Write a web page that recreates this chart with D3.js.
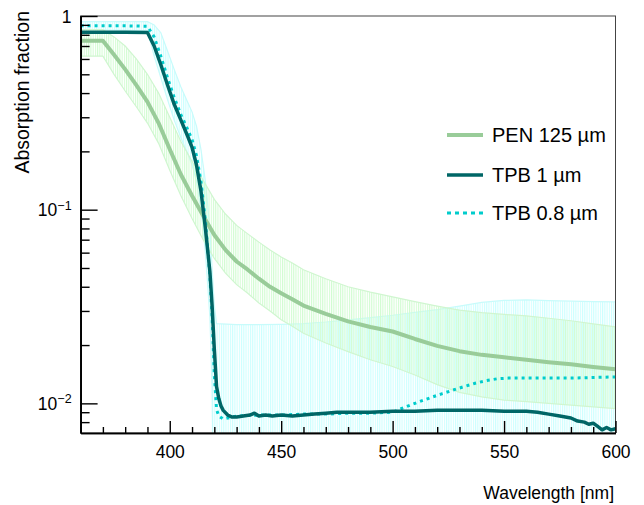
<!DOCTYPE html>
<html>
<head>
<meta charset="utf-8">
<script src="https://cdn.jsdelivr.net/npm/d3@7"></script>
<style>
body { margin: 0; background: #fff; }
text { font-family: "Liberation Sans", Arial, sans-serif; }
</style>
</head>
<body>
<div id="chart"></div>
<script>
// PEN 125 um
const penWl  = [360,365,370,375,380,385,390,395,400,405,410,415,420,425,430,435,440,445,450,455,460,470,480,490,500,510,520,530,540,550,560,570,580,590,600]
const penVal = [0.745,0.745,0.745,0.63,0.53,0.44,0.36,0.28,0.205,0.152,0.118,0.093,0.074,0.062,0.054,0.049,0.044,0.040,0.037,0.0345,0.032,0.029,0.0265,0.0248,0.0235,0.0215,0.0198,0.0186,0.0178,0.0173,0.0168,0.0163,0.0159,0.0154,0.015]
const penLo  = [0.62,0.62,0.62,0.50,0.41,0.34,0.28,0.22,0.16,0.118,0.09,0.07,0.056,0.047,0.041,0.037,0.033,0.030,0.027,0.025,0.023,0.0205,0.0185,0.0168,0.0155,0.014,0.0125,0.0114,0.0108,0.0104,0.0102,0.01,0.0098,0.0096,0.0094]
const penHi  = [0.85,0.85,0.85,0.78,0.70,0.60,0.50,0.40,0.30,0.225,0.178,0.142,0.113,0.095,0.083,0.075,0.068,0.062,0.057,0.053,0.049,0.044,0.040,0.0375,0.0355,0.0335,0.0318,0.0303,0.0294,0.0288,0.0283,0.0275,0.0267,0.0257,0.0248]

// TPB 1 um
const tpb1Wl  = [360,370,380,390,393,396,399,402,405,408,410,412,414,416,418,419,420,421,422,423,424,426,428,430,433,436,438,440,443,446,450,455,460,465,470,475,480,490,500,510,520,530,540,550,555,560,565,570,575,580,583,586,588,590,592,594,596,598,600]
const tpb1Val = [0.825,0.825,0.825,0.822,0.70,0.56,0.44,0.35,0.29,0.24,0.21,0.17,0.125,0.08,0.048,0.032,0.019,0.0122,0.0106,0.0097,0.0092,0.0087,0.0085,0.0085,0.0086,0.0087,0.0089,0.0086,0.0087,0.0086,0.0087,0.0086,0.0087,0.0088,0.0089,0.009,0.009,0.009,0.0091,0.0091,0.0092,0.0092,0.0092,0.0091,0.0091,0.0091,0.009,0.0088,0.0086,0.0084,0.0081,0.008,0.0078,0.0079,0.0076,0.0073,0.0075,0.0073,0.0074]

// TPB 0.8 um
const tpb08Wl  = [360,370,380,390,393,396,399,402,405,408,410,412,414,416,418,419,420,421,422,424,426,430,440,450,460,470,480,490,500,503,508,512,517,522,527,532,537,542,547,552,560,570,580,590,600]
const tpb08Val = [0.89,0.89,0.89,0.885,0.78,0.62,0.48,0.38,0.31,0.26,0.23,0.19,0.14,0.088,0.045,0.028,0.014,0.0093,0.0086,0.0083,0.0084,0.0086,0.0087,0.0087,0.0088,0.0088,0.0089,0.0089,0.009,0.0093,0.0098,0.0102,0.0107,0.0112,0.0117,0.0122,0.0127,0.0131,0.0134,0.0135,0.0135,0.0135,0.0135,0.0136,0.0137]
const tpb08BandWl = [360,390,393,396,399,402,405,408,410,412,414,416,418,419,420,421,430,440,450,460,470,480,490,500,510,520,530,540,550,560,570,580,590,600]
const tpb08Lo = [0.85,0.84,0.62,0.48,0.37,0.29,0.235,0.195,0.17,0.14,0.10,0.06,0.028,0.012,0.001,0.001,0.001,0.001,0.001,0.001,0.001,0.001,0.001,0.001,0.001,0.001,0.001,0.001,0.001,0.001,0.001,0.001,0.001,0.001]
const tpb08Hi = [0.935,0.935,0.90,0.82,0.66,0.53,0.43,0.36,0.32,0.27,0.205,0.14,0.08,0.05,0.032,0.0258,0.0255,0.0255,0.0256,0.0258,0.0263,0.027,0.0277,0.0285,0.0295,0.0305,0.0318,0.0332,0.034,0.0342,0.0339,0.0337,0.0335,0.0334]

const xMajor = [400,450,500,550,600]
const yMajor = [1,0.1,0.01]
const yLabels = [["1",""],["10","\u22121"],["10","\u22122"]]
const legendNames = ["PEN 125 \u00b5m","TPB 1 \u00b5m","TPB 0.8 \u00b5m"]

const W = 644, H = 505
const x0 = 80.6, x1 = 615.5, yTop = 16, yBot = 433

const x = d3.scaleLinear().domain([360,600]).range([x0,x1])
const y = d3.scaleLog().domain([0.00703,1]).range([yBot,yTop])

const svg = d3.select('#chart').append('svg')
	.attr('width',W).attr('height',H)

const defs = svg.append('defs')
defs.append('clipPath').attr('id','plotClip')
	.append('rect')
	.attr('x',x0).attr('y',yTop)
	.attr('width',x1-x0).attr('height',yBot-yTop)

const step = x(361) - x(360)
function hatch(id, color, shift) {
	let p = defs.append('pattern')
		.attr('id',id)
		.attr('patternUnits','userSpaceOnUse')
		.attr('width',step).attr('height',20)
		.attr('patternTransform','translate(' + (x0 + shift) + ',0)')
	p.append('line')
		.attr('x1',0.5).attr('x2',0.5)
		.attr('y1',0).attr('y2',20)
		.attr('stroke',color)
		.attr('stroke-width',1.1)
}
hatch('hatchCyan','#ccffff',0)
hatch('hatchGreen','#d2fcd2',0.9)

const plot = svg.append('g').attr('clip-path','url(#plotClip)')

function band(wl, lo, hi, fillId, edge) {
	let pts = wl.map(function(w,i){ return {w: w, lo: lo[i], hi: hi[i]} })
	plot.append('path')
		.datum(pts)
		.attr('d', d3.area()
			.x(function(d){ return x(d.w) })
			.y0(function(d){ return y(d.lo) })
			.y1(function(d){ return y(d.hi) }))
		.attr('fill','url(#' + fillId + ')')
	plot.append('path')
		.datum(pts)
		.attr('d', d3.line().x(function(d){ return x(d.w) }).y(function(d){ return y(d.hi) }))
		.attr('fill','none').attr('stroke',edge).attr('stroke-width',1.2)
	plot.append('path')
		.datum(pts)
		.attr('d', d3.line().x(function(d){ return x(d.w) }).y(function(d){ return y(d.lo) }))
		.attr('fill','none').attr('stroke',edge).attr('stroke-width',1.2)
}

band(tpb08BandWl, tpb08Lo, tpb08Hi, 'hatchCyan', '#c8fbfb')
band(penWl, penLo, penHi, 'hatchGreen', '#d0f6d0')

function curve(wl, val, color, width, dash) {
	let pts = wl.map(function(w,i){ return [x(w), y(val[i])] })
	let p = plot.append('path')
		.attr('d', d3.line()(pts))
		.attr('fill','none')
		.attr('stroke',color)
		.attr('stroke-width',width)
		.attr('stroke-linejoin','round')
	if (dash) p.attr('stroke-dasharray',dash)
}

const colPen = '#99cc99', colT1 = '#006666', colT08 = '#00cccc'
curve(penWl, penVal, colPen, 4)
curve(tpb08Wl, tpb08Val, colT08, 3, '3,4')
curve(tpb1Wl, tpb1Val, colT1, 3.5)

// frame
svg.append('rect')
	.attr('x',x0).attr('y',yTop)
	.attr('width',x1-x0).attr('height',yBot-yTop)
	.attr('fill','none').attr('stroke','#444').attr('stroke-width',1)

// x axis
const xMinor = d3.range(360,601,10).filter(function(v){ return xMajor.indexOf(v) < 0 })
svg.append('g')
	.attr('transform','translate(0,' + yBot + ')')
	.call(d3.axisBottom(x).tickValues(xMinor).tickSize(-6).tickSizeOuter(0).tickFormat(''))
svg.append('g')
	.attr('class','xmaj')
	.attr('transform','translate(0,' + yBot + ')')
	.call(d3.axisBottom(x).tickValues(xMajor).tickSize(-12).tickSizeOuter(0).tickPadding(13).tickFormat(d3.format('d')))

// y axis
const yMinor = [0.008,0.009,0.02,0.03,0.04,0.05,0.06,0.07,0.08,0.09,0.2,0.3,0.4,0.5,0.6,0.7,0.8,0.9]
svg.append('g')
	.attr('transform','translate(' + x0 + ',0)')
	.call(d3.axisLeft(y).tickValues(yMinor).tickSize(-9).tickSizeOuter(0).tickFormat(''))
const yAx = svg.append('g')
	.attr('transform','translate(' + x0 + ',0)')
	.call(d3.axisLeft(y).tickValues(yMajor).tickSize(-17).tickSizeOuter(0).tickFormat(''))

yAx.selectAll('.tick').each(function(d,i){
	let t = d3.select(this).append('text')
		.attr('x',-9).attr('y',0).attr('dy','0.36em')
		.attr('text-anchor','end')
		.attr('fill','#000')
		.style('font-size','17.5px')
	t.append('tspan').text(yLabels[i][0])
	if (yLabels[i][1]) {
		t.append('tspan').attr('dy','-0.55em').style('font-size','12.5px').text(yLabels[i][1])
	}
})

svg.selectAll('.domain').attr('stroke','#000').attr('stroke-width',1.6)
svg.selectAll('.tick line').attr('stroke','#000').attr('stroke-width',1.4)
svg.selectAll('.xmaj text').style('font-size','17.5px').attr('fill','#000')

// titles
svg.append('text')
	.attr('x',614).attr('y',499)
	.attr('text-anchor','end')
	.style('font-size','17.5px')
	.text('Wavelength [nm]')
svg.append('text')
	.attr('transform','translate(29,11) rotate(-90)')
	.attr('text-anchor','end')
	.style('font-size','19.5px')
	.text('Absorption fraction')

// legend
const legCols = [colPen, colT1, colT08]
const legW = [4, 3.5, 3]
const legY = [135, 175, 213]
for (let i = 0; i < legendNames.length; i++) {
	let l = svg.append('line')
		.attr('x1',447).attr('x2',483)
		.attr('y1',legY[i]).attr('y2',legY[i])
		.attr('stroke',legCols[i])
		.attr('stroke-width',legW[i])
	if (i == 2) l.attr('stroke-dasharray','4,4')
	svg.append('text')
		.attr('x',492).attr('y',legY[i] + 7)
		.style('font-size','20px')
		.text(legendNames[i])
}
</script>
</body>
</html>
